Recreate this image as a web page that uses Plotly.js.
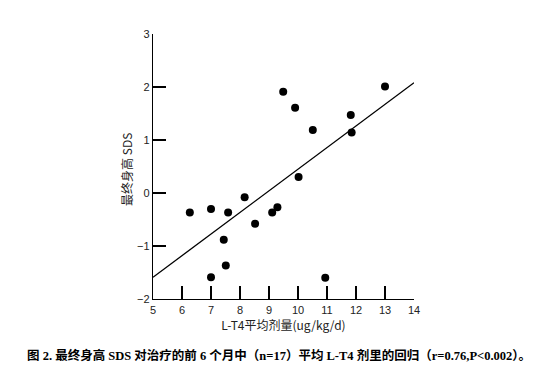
<!DOCTYPE html>
<html>
<head>
<meta charset="utf-8">
<script src="https://cdn.plot.ly/plotly-3.0.1.min.js"></script>
<style>html,body{margin:0;padding:0;background:#fff;}#chart{width:550px;height:378px;}</style>
</head>
<body>
<div id="chart"></div>
<script>
// Mean L-T4 dose (ug/kg/d) during first 6 months
var doseX = [6.27, 7.0, 7.59, 8.16, 8.52, 9.11, 9.29, 7.44, 7.51, 7.0, 10.94, 9.49, 9.90, 10.51, 10.02, 11.82, 11.85, 13.0];
// Final height SDS
var heightSDS = [-0.37, -0.30, -0.37, -0.08, -0.58, -0.37, -0.27, -0.88, -1.37, -1.59, -1.60, 1.91, 1.61, 1.19, 0.30, 1.47, 1.14, 2.01];
// Regression line end points
var fitX = [5, 14];
var fitY = [-1.59, 2.08];
var xTicks = [5, 6, 7, 8, 9, 10, 11, 12, 13, 14];
var yTicks = [-2, -1, 0, 1, 2, 3];
var yTickText = ['\u22122', '\u22121', '0', '1', '2', '3'];

var traces = [
  {x: fitX, y: fitY, mode: 'lines', line: {color: '#000', width: 1.3}, hoverinfo: 'skip', cliponaxis: false},
  {x: doseX, y: heightSDS, mode: 'markers', marker: {color: '#000', size: 8}, cliponaxis: false}
];

var layout = {
  width: 550, height: 378,
  margin: {l: 153, r: 136, t: 34, b: 79},
  paper_bgcolor: '#fff', plot_bgcolor: '#fff',
  showlegend: false,
  font: {family: 'Liberation Sans, Arial, sans-serif', color: '#222', size: 11},
  xaxis: {
    range: [5, 14], tickvals: xTicks, ticktext: xTicks.map(String),
    showgrid: false, zeroline: false, showline: true, linecolor: '#000', linewidth: 1.3,
    ticks: 'inside', ticklen: 13, tickwidth: 1.3, tickcolor: '#000',
    tickfont: {size: 11, color: '#222'},
    title: {text: 'L-T4平均剂量(ug/kg/d)', font: {family: 'Noto Sans CJK SC, DejaVu Sans Mono, monospace', size: 12, color: '#222'}, standoff: 4}
  },
  yaxis: {
    range: [-2, 3], tickvals: yTicks, ticktext: yTickText,
    showgrid: false, zeroline: false, showline: true, linecolor: '#000', linewidth: 1.3,
    ticks: 'inside', ticklen: 13, tickwidth: 1.3, tickcolor: '#000',
    tickfont: {size: 11, color: '#222'}
  },
  annotations: [{
    xref: 'paper', yref: 'paper', x: -0.0996, y: 0.487, xanchor: 'center', yanchor: 'middle',
    showarrow: false, textangle: -90,
    text: '最终身高 SDS',
    font: {family: 'Noto Sans CJK SC, sans-serif', size: 12, color: '#222'}
  }, {
    xref: 'paper', yref: 'paper', x: -0.49, y: -0.215, xanchor: 'left', yanchor: 'middle',
    showarrow: false,
    text: '<b>图 2. 最终身高 SDS 对治疗的前 6 个月中（n=17）平均 L-T4 剂里的回归（r=0.76,P<0.002）。</b>',
    font: {family: 'Liberation Serif, Noto Sans CJK SC, serif', size: 12.5, color: '#000'}
  }]
};

Plotly.newPlot('chart', traces, layout, {displayModeBar: false, staticPlot: true});
</script>
</body>
</html>
